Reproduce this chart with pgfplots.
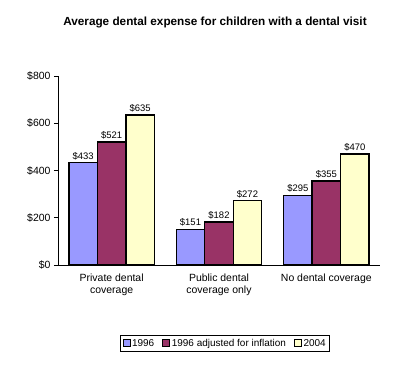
\documentclass[border=0pt]{standalone}
\usepackage{fontspec}
\setmainfont{Liberation Sans}
\usepackage{pgfplots}
\pgfplotsset{compat=1.18}
\definecolor{cA}{HTML}{9999FF}
\definecolor{cB}{HTML}{993366}
\definecolor{cC}{HTML}{FFFFCC}
\begin{document}
\begin{tikzpicture}
\path[use as bounding box] (0,0) rectangle (412bp,374bp);
\node[font=\bfseries\fontsize{11.8}{13}\selectfont] at (215bp,352bp) {Average dental expense for children with a dental visit};
\begin{axis}[
  at={(58bp,109bp)}, anchor=south west,
  scale only axis, width=322bp, height=189bp,
  xmin=-0.5, xmax=2.5, ymin=0, ymax=800,
  axis lines*=left,
  axis line style={line width=0.6bp},
  ybar=0pt, bar width=28.5bp,
  ytick={0,200,400,600,800},
  yticklabels={\$0,\$200,\$400,\$600,\$800},
  ytick style={line width=0.6bp, black},
  tick align=outside, major tick length=4bp,
  xtick={0,1,2},
  xticklabels={Private dental\\coverage, Public dental\\coverage only, No dental coverage},
  xticklabel style={align=center, font=\fontsize{10.5}{12}\selectfont, yshift=-1bp},
  yticklabel style={font=\fontsize{10.5}{12}\selectfont},
  xtick style={draw=none},
  extra x ticks={-0.5,0.5,1.5,2.5},
  extra x tick labels={},
  extra x tick style={tick style={draw=black, line width=0.6bp}, major tick length=4bp},
  nodes near coords={\$\pgfmathprintnumber{\pgfplotspointmeta}},
  nodes near coords style={font=\fontsize{9.5}{11}\selectfont, inner sep=2bp},
  /pgf/number format/assume math mode=true,
  every axis plot/.append style={draw=black, line width=1.4bp},
  legend columns=3,
  legend style={at={(0.519,-0.415)}, anchor=center, draw=black, line width=0.6bp,
    font=\fontsize{10}{11}\selectfont, inner xsep=2bp, inner ysep=1.5bp,
    /tikz/every even column/.append style={column sep=6bp}},
  legend image code/.code={\draw[#1, line width=0.6bp] (0bp,-3bp) rectangle (7bp,4bp);},
]
\addplot[fill=cA] coordinates {(0,433) (1,151) (2,295)};
\addplot[fill=cB] coordinates {(0,521) (1,182) (2,355)};
\addplot[fill=cC] coordinates {(0,635) (1,272) (2,470)};
\legend{1996,1996 adjusted for inflation,2004}
\end{axis}
\end{tikzpicture}
\end{document}
